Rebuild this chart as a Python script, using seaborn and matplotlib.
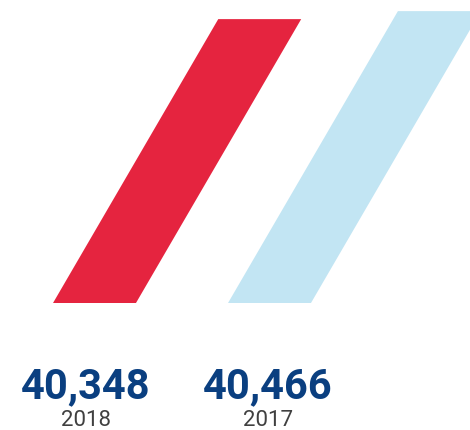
import matplotlib
matplotlib.use("Agg")
import matplotlib.pyplot as plt
from matplotlib.transforms import Affine2D, blended_transform_factory
import seaborn as sns
import pandas as pd

years = ["2018", "2017"]
values = [40348, 40466]
colors = ["#e5243f", "#c2e5f3"]
value_labels = ["40,348", "40,466"]

sns.set_theme(style="white")
plt.rcParams["font.family"] = ["Roboto", "DejaVu Sans"]

fig = plt.figure(figsize=(4.7, 4.3), dpi=100)
ax = fig.add_axes([0, (430 - 303) / 430, 1, 303 / 430])

df = pd.DataFrame({"year": years, "value": values})
sns.barplot(data=df, x="year", y="value", hue="year", palette=colors,
            legend=False, width=0.474, saturation=1, ax=ax, linewidth=0)

ax.set_xlim(-94.5 / 175, (470 - 94.5) / 175)
ymin, ymax = 36160, 40630
ax.set_ylim(ymin, ymax)
ax.axis("off")

fig.canvas.draw()
base_px = ax.transData.transform((0, ymin))[1]
skew = Affine2D().translate(0, -base_px).skew_deg(30.2, 0).translate(0, base_px)
for p in ax.patches:
    p.set_transform(ax.transData + skew)

trans = blended_transform_factory(ax.transData, fig.transFigure)
for i, (lab, yr) in enumerate(zip(value_labels, years)):
    xt = i * 1.04 - 0.05
    ax.text(xt, (430 - 398) / 430, lab, transform=trans, ha="center",
            va="baseline", fontsize=30, fontweight="bold", color="#0a3f80",
            clip_on=False)
    ax.text(xt, (430 - 426) / 430, yr, transform=trans, ha="center",
            va="baseline", fontsize=16, color="#404040", clip_on=False)

fig.savefig("out.png", dpi=100, facecolor="white")
